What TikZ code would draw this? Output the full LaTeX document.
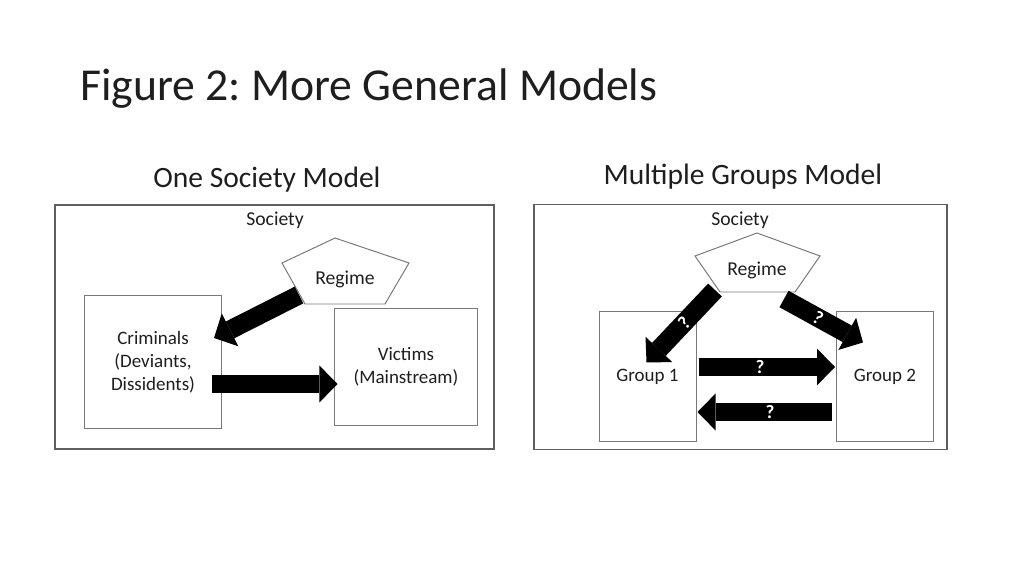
\documentclass[tikz,border=0pt]{standalone}
\usepackage{fontspec}
\setmainfont{Carlito}
\usepackage{tikz}
\usetikzlibrary{arrows.meta, positioning, calc}
\usepackage{xcolor}
\definecolor{LineGray}{RGB}{120,120,120}
\definecolor{FrameGray}{RGB}{95,95,95}
\definecolor{InkDark}{RGB}{30,30,30}
\frenchspacing
\tikzset{
  framebox/.style={rectangle,draw=FrameGray,line width=0.9pt,inner sep=0pt},
  membox/.style={rectangle,draw=LineGray,line width=0.7pt,align=center,
    font=\fontsize{13.5}{16.3}\selectfont,text=InkDark},
  pentline/.style={draw=LineGray,line width=0.7pt},
  lbl/.style={font=\fontsize{14}{17}\selectfont,text=InkDark},
  headline/.style={font=\fontsize{21}{25}\selectfont,text=InkDark},
  blockarrow/.style={line width=0.47cm,line cap=butt,
    -{Triangle[length=0.45cm,width=0.92cm,line width=0pt]}},
  qmark/.style={text=white,font=\fontsize{13.5}{15}\selectfont\bfseries,sloped}
}

\begin{document}
\begin{tikzpicture}[x=0.025cm,y=-0.025cm]
  \useasboundingbox (0,0) rectangle (1024,576);
  \node[anchor=base west,inner sep=0pt,text=InkDark,
    font=\fontsize{32.5}{39}\selectfont] (title) at (80,101) {Figure 2: More General Models};
  \node[headline] (subL) at (267,180) {One Society Model};
  \node[headline] (subR) at (743,177) {Multiple Groups Model};

  \node[framebox,minimum width=10.975cm,minimum height=6.1cm] (socL) at (274.5,327) {};
  \node[lbl] (socLtxt) at (275,220) {Society};
  \draw[pentline] (335,238) -- (409,263) -- (385,304) -- (305,304) -- (282,263) -- cycle;
  \node[lbl] (regL) at (345,279) {Regime};
  \node[membox,minimum width=3.4cm,minimum height=3.3cm] (crim) at (153,362) {Criminals\\(Deviants,\\Dissidents)};
  \node[membox,minimum width=3.55cm,minimum height=2.9cm] (vict) at (406,367) {Victims\\(Mainstream)};
  \draw[blockarrow] ($(regL)+(-46,16)$) -- ($(crim)+(61,-24)$);
  \draw[blockarrow] ([shift={(-10,22)}]crim.east) -- ([shift={(3,17)}]vict.west);

  \node[framebox,minimum width=10.325cm,minimum height=6.125cm] (socR) at (740.5,327) {};
  \node[lbl] (socRtxt) at (740,220) {Society};
  \draw[pentline] (757,233) -- (820,256) -- (795,292) -- (720,292) -- (695,256) -- cycle;
  \node[lbl] (regR) at (757,270) {Regime};
  \node[membox,minimum width=2.425cm,minimum height=3.225cm] (grpA) at (647.5,376.5) {Group 1};
  \node[membox,minimum width=2.425cm,minimum height=3.225cm] (grpB) at (885,376.5) {Group 2};
  \draw[blockarrow] ($(regR)+(-42,20)$) -- node[qmark,pos=0.45] {?} ($(grpA)+(-1,-14)$);
  \draw[blockarrow] ($(regR)+(27,29)$) -- node[qmark,pos=0.43] {?} ($(grpB)+(-22,-34)$);
  \draw[blockarrow] ([shift={(2,-9.5)}]grpA.east) -- node[qmark,pos=0.45] {?} ([shift={(-1,-9.5)}]grpB.west);
  \draw[blockarrow] ([shift={(-4,35.5)}]grpB.west) -- node[qmark,pos=0.46] {?} ([shift={(1,35.5)}]grpA.east);
\end{tikzpicture}
\end{document}
